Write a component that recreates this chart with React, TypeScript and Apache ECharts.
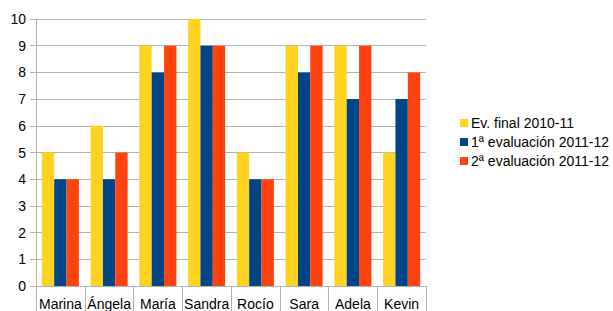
import React, { useEffect, useRef } from "react";
import * as echarts from "echarts";

const categories = ["Marina", "Ángela", "María", "Sandra", "Rocío", "Sara", "Adela", "Kevin"];
const seriesNames = ["Ev. final 2010-11", "1ª evaluación 2011-12", "2ª evaluación 2011-12"];
const evFinal = [5, 6, 9, 10, 5, 9, 9, 5];
const eval1 = [4, 4, 8, 9, 4, 8, 7, 7];
const eval2 = [4, 5, 9, 9, 4, 9, 9, 8];
const colors = ["#FFD320", "#004586", "#FF420E"];

export default function App() {
  const ref = useRef<HTMLDivElement>(null);
  useEffect(() => {
    document.body.style.margin = "0";
    const chart = echarts.init(ref.current!, null, { renderer: "svg" });
    const font = "'Liberation Sans', Arial, sans-serif";
    chart.setOption({
      animation: false,
      color: colors,
      textStyle: { fontFamily: font },
      grid: { left: 36, top: 19, right: 187, bottom: 25, containLabel: false },
      legend: {
        orient: "vertical",
        left: 455,
        top: 111,
        itemWidth: 8,
        itemHeight: 8,
        itemGap: 5,
        icon: "rect",
        textStyle: { fontSize: 14, color: "#000", fontFamily: font, padding: [0, 0, 0, -2] },
        data: seriesNames,
      },
      xAxis: {
        type: "category",
        data: categories,
        boundaryGap: true,
        axisLine: { lineStyle: { color: "#b3b3b3" } },
        axisTick: { show: true, length: 25, lineStyle: { color: "#b3b3b3" } },
        axisLabel: { color: "#000", fontSize: 14, margin: 11, fontFamily: font, interval: 0 },
      },
      yAxis: {
        type: "value",
        min: 0,
        max: 10,
        interval: 1,
        axisLine: { show: true, lineStyle: { color: "#b3b3b3" } },
        axisTick: { show: true, length: 6, lineStyle: { color: "#b3b3b3" } },
        splitLine: { lineStyle: { color: "#b3b3b3" } },
        axisLabel: { color: "#000", fontSize: 14, margin: 10, fontFamily: font },
      },
      series: [
        { name: seriesNames[0], type: "bar", data: evFinal, barGap: "0%", barCategoryGap: "24%" },
        { name: seriesNames[1], type: "bar", data: eval1, barGap: "0%", barCategoryGap: "24%" },
        { name: seriesNames[2], type: "bar", data: eval2, barGap: "0%", barCategoryGap: "24%" },
      ],
    });
    return () => chart.dispose();
  }, []);
  return <div ref={ref} style={{ width: 613, height: 311 }} />;
}
